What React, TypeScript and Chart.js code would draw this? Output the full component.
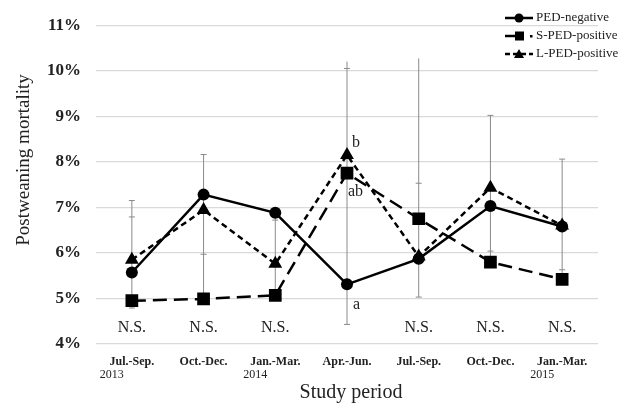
import React, { useEffect, useRef } from 'react';
import { Chart, registerables } from 'chart.js';

Chart.register(...registerables);

const categories = ['Jul.-Sep.', 'Oct.-Dec.', 'Jan.-Mar.', 'Apr.-Jun.', 'Jul.-Sep.', 'Oct.-Dec.', 'Jan.-Mar.'];
const yearLabels = ['2013', '', '2014', '', '', '', '2015'];
const pedNegative = [5.57, 7.28, 6.88, 5.31, 5.87, 7.03, 6.58];
const sPedPositive = [4.95, 4.99, 5.07, 7.75, 6.75, 5.8, 5.42];
const lPedPositive = [5.85, 6.94, 5.76, 8.15, 5.92, 7.43, 6.6];
const errorTop = [7.15, 8.16, 6.88, 10.2, 10.27, 9.02, 8.06];
const errorBottom = [4.79, 4.99, 5.07, 4.43, 5.03, 5.8, 5.42];
const errorCaps = [[7.15, 6.79, 4.79], [8.16, 5.97], [6.72], [10.05, 4.43], [7.53, 5.03], [9.02, 6.04], [8.06, 5.63]];
const statLabels = ['N.S.', 'N.S.', 'N.S.', '', 'N.S.', 'N.S.', 'N.S.'];
const yTicks = [4, 5, 6, 7, 8, 9, 10, 11];

const SERIF = '"Liberation Serif", "DejaVu Serif", serif';

const overlayPlugin = {
  id: 'overlay',
  beforeDatasetsDraw(chart: any) {
    const { ctx, scales } = chart;
    const x = scales.x, y = scales.y;
    ctx.save();
    ctx.strokeStyle = '#8a8a8a';
    ctx.lineWidth = 1;
    categories.forEach((_, i) => {
      const px = x.getPixelForValue(i);
      ctx.beginPath();
      ctx.moveTo(px, y.getPixelForValue(errorTop[i]));
      ctx.lineTo(px, y.getPixelForValue(errorBottom[i]));
      ctx.stroke();
      errorCaps[i].forEach((v) => {
        const py = y.getPixelForValue(v);
        ctx.beginPath();
        ctx.moveTo(px - 3, py);
        ctx.lineTo(px + 3, py);
        ctx.stroke();
      });
    });
    ctx.restore();
  },
  afterDraw(chart: any) {
    const { ctx, scales, chartArea } = chart;
    const x = scales.x, y = scales.y;
    ctx.save();
    ctx.fillStyle = '#222';
    // N.S. labels
    ctx.font = `16px ${SERIF}`;
    ctx.textAlign = 'center';
    ctx.textBaseline = 'middle';
    statLabels.forEach((t, i) => {
      if (t) ctx.fillText(t, x.getPixelForValue(i), 328);
    });
    // significance letters
    const px4 = x.getPixelForValue(3);
    ctx.textAlign = 'left';
    ctx.font = `16px ${SERIF}`;
    ctx.fillText('b', px4 + 5, 143);
    ctx.fillText('ab', px4 + 1, 192);
    ctx.fillText('a', px4 + 6, 305);
    // year labels
    ctx.font = `12px ${SERIF}`;
    yearLabels.forEach((t, i) => {
      if (t) ctx.fillText(t, x.getPixelForValue(i) - 32, 375);
    });
    // axis titles
    ctx.font = `20px ${SERIF}`;
    ctx.textAlign = 'center';
    ctx.fillText('Study period', (chartArea.left + chartArea.right) / 2 + 4, 393);
    ctx.save();
    ctx.font = `19px ${SERIF}`;
    ctx.translate(24, 160);
    ctx.rotate(-Math.PI / 2);
    ctx.fillText('Postweaning mortality', 0, 0);
    ctx.restore();
    // legend
    const lx = 505, lw = 28;
    const rows = [18, 36, 54];
    ctx.strokeStyle = '#000';
    ctx.fillStyle = '#000';
    ctx.lineWidth = 2.5;
    // row 1
    ctx.beginPath();
    ctx.moveTo(lx, rows[0]);
    ctx.lineTo(lx + lw, rows[0]);
    ctx.stroke();
    ctx.beginPath();
    ctx.arc(lx + 14, rows[0], 4.5, 0, Math.PI * 2);
    ctx.fill();
    // row 2
    ctx.beginPath();
    ctx.moveTo(lx, rows[1]);
    ctx.lineTo(lx + 16, rows[1]);
    ctx.stroke();
    ctx.fillRect(lx + 10, rows[1] - 4.5, 9, 9);
    ctx.fillRect(lx + 25, rows[1] - 1, 2.5, 2.5);
    // row 3
    ctx.setLineDash([5, 3]);
    ctx.beginPath();
    ctx.moveTo(lx, rows[2]);
    ctx.lineTo(lx + lw, rows[2]);
    ctx.stroke();
    ctx.setLineDash([]);
    ctx.beginPath();
    ctx.moveTo(lx + 14, rows[2] - 5);
    ctx.lineTo(lx + 19, rows[2] + 4);
    ctx.lineTo(lx + 9, rows[2] + 4);
    ctx.closePath();
    ctx.fill();
    ctx.fillStyle = '#222';
    ctx.font = `13px ${SERIF}`;
    ctx.textAlign = 'left';
    ctx.fillText('PED-negative', lx + 31, rows[0]);
    ctx.fillText('S-PED-positive', lx + 31, rows[1]);
    ctx.fillText('L-PED-positive', lx + 31, rows[2]);
    ctx.restore();
  },
};

export default function App() {
  const ref = useRef<HTMLCanvasElement>(null);
  useEffect(() => {
    document.body.style.margin = '0';
    const chart = new Chart(ref.current as HTMLCanvasElement, {
      type: 'line',
      data: {
        labels: categories,
        datasets: [
          {
            label: 'PED-negative',
            data: pedNegative,
            borderColor: '#000',
            backgroundColor: '#000',
            borderWidth: 2.5,
            pointStyle: 'circle',
            pointRadius: 6,
            pointBorderWidth: 0,
          },
          {
            label: 'S-PED-positive',
            data: sPedPositive,
            borderColor: '#000',
            backgroundColor: '#000',
            borderWidth: 2.5,
            borderDash: [14, 7],
            pointStyle: 'rect',
            pointRadius: 9,
            pointBorderWidth: 0,
          },
          {
            label: 'L-PED-positive',
            data: lPedPositive,
            borderColor: '#000',
            backgroundColor: '#000',
            borderWidth: 2.5,
            borderDash: [6, 4],
            pointStyle: 'triangle',
            pointRadius: 8,
            pointBorderWidth: 0,
          },
        ],
      },
      options: {
        animation: false,
        responsive: false,
        devicePixelRatio: 1,
        layout: { padding: { left: 0, top: 18, right: 27, bottom: 0 } },
        plugins: { legend: { display: false }, tooltip: { enabled: false } },
        scales: {
          x: {
            offset: true,
            grid: { display: false, drawTicks: false },
            border: { display: false },
            ticks: {
              color: '#222',
              padding: 11,
              maxRotation: 0,
              autoSkip: false,
              font: { family: SERIF, size: 12, weight: 'bold' },
            },
            afterFit: (s: any) => { s.height = 62; },
          },
          y: {
            min: 4,
            max: 11,
            afterBuildTicks: (s: any) => { s.ticks = yTicks.map((v) => ({ value: v })); },
            grid: { color: '#d9d9d9', lineWidth: 1.2, drawTicks: false },
            border: { display: false },
            ticks: {
              color: '#222',
              padding: 15,
              font: { family: SERIF, size: 17, weight: 'bold' },
              callback: (v: any) => `${v}%`,
            },
            afterFit: (s: any) => { s.width = 96; },
          },
        },
      },
      plugins: [overlayPlugin],
    });
    return () => chart.destroy();
  }, []);
  return <canvas ref={ref} width={625} height={406} style={{ display: 'block' }} />;
}
